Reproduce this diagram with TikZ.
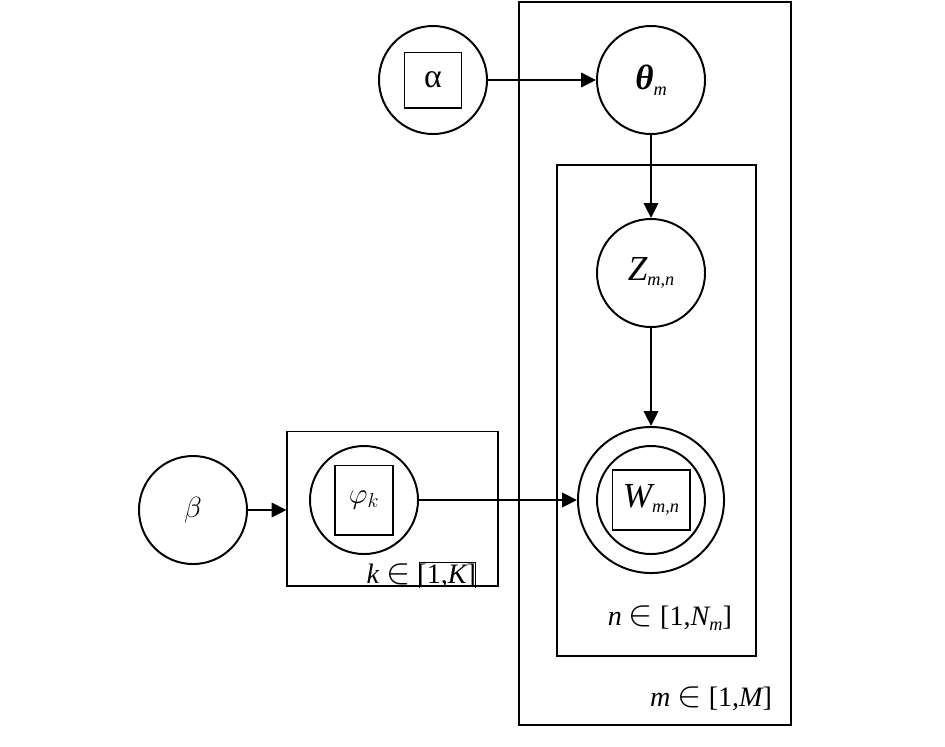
\documentclass[tikz,border=0pt]{standalone}
\usepackage{fontspec}
\setmainfont{Liberation Serif}
\usepackage{tikz}
\usetikzlibrary{positioning, arrows.meta, calc}
\newcommand{\lo}[1]{\raisebox{-4pt}{\fontsize{13}{13}\selectfont\itshape #1}}
\newcommand{\isin}{\scalebox{1.25}{$\in$}}

\begin{document}
\begin{tikzpicture}[x=0.025cm, y=-0.025cm, line width=1.4pt,
    font=\fontsize{20}{24}\selectfont,
    var/.style={draw, circle, minimum size=2.7cm, inner sep=0pt, font=\fontsize{25}{29}\selectfont},
    box/.style={draw, rectangle, inner sep=0pt},
    plate/.style={draw, rectangle, inner sep=0pt},
    arr/.style={-{Triangle[length=0.37cm, width=0.36cm]}}]
    \useasboundingbox (0,0) rectangle (945,746);

    % plates
    \node[plate, minimum width=6.7875cm, minimum height=18.075cm] (plateM) at (655.25,363.5) {};
    \node[plate, minimum width=4.975cm, minimum height=12.275cm] (plateN) at (656.5,410.5) {};
    \node[plate, minimum width=5.2625cm, minimum height=3.8625cm] (plateK) at (392.75,508.75) {};

    % variables
    \node[var] (alpha) at (433,80) {};
    \node[box, minimum width=1.425cm, minimum height=1.375cm, font=\fontsize{24}{28}\selectfont] (alphabox) at (alpha) {α};
    \node[var] (theta) at (651,80) {{\bfseries\itshape θ}\lo{m}};
    \node[var] (Z) at (651,273) {{\itshape Z}\lo{m,n}};
    \node[var, minimum size=3.65cm] (W) at (651,500) {};
    \node[var] (Win) at (W) {};
    \node[box, minimum width=1.925cm, minimum height=1.5cm, font=\fontsize{25}{29}\selectfont] (Wbox) at (W) {{\itshape W}\lo{m,n}};
    \node[var, font=\fontsize{20}{24}\selectfont] (beta) at (193,510) {$\beta$};
    \node[var] (phi) at (364,500) {};
    \node[box, minimum width=1.45cm, minimum height=1.725cm, font=\fontsize{22}{26}\selectfont] (phibox) at (phi) {$\varphi_k$};

    % plate labels
    \node[anchor=base east, inner sep=0pt] (mlab) at (773,706) {{\itshape m} \isin{} [1,{\itshape M}]};
    \node[anchor=base east, inner sep=0pt] (nlab) at (733,625) {{\itshape n} \isin{} [1,{\itshape N}\lo{m}]};
    \node[anchor=base east, inner sep=0pt] (klab) at (477,583) {{\itshape k} \isin{} [1,{\itshape K}]};
    \node[anchor=base east, inner ysep=0pt, inner xsep=-1.6pt] (kbr) at (475.4,583) {\phantom{[1,{\itshape K}]}};
    \draw[line width=1pt] (kbr.south west) |- (kbr.north east) -- (kbr.south east);

    % edges
    \draw[arr] (alpha) -- (theta);
    \draw[arr] (theta) -- (Z);
    \draw[arr] (Z) -- (W);
    \draw[arr] (beta) -- (beta -| plateK.west);
    \draw[arr] (phi) -- (W);
\end{tikzpicture}
\end{document}
